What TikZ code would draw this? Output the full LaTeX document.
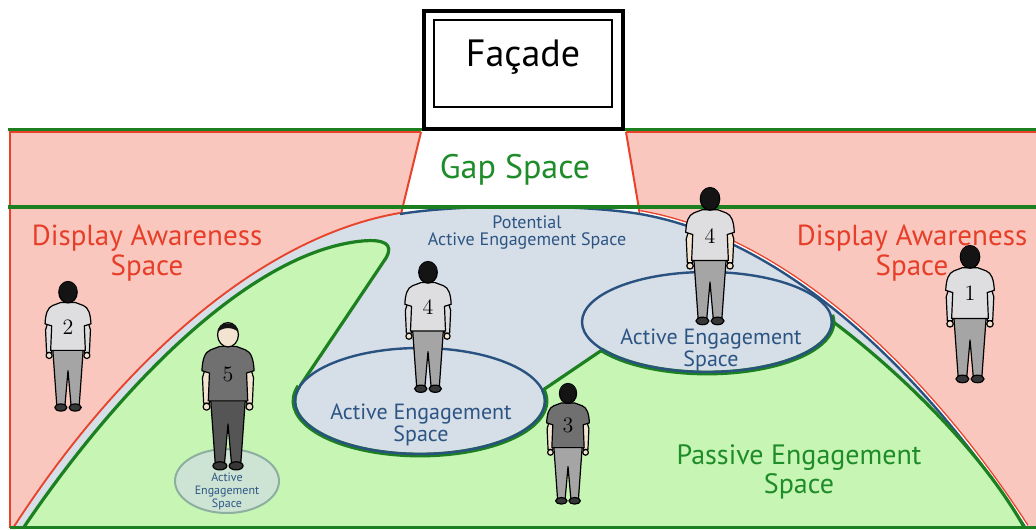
\documentclass[tikz,border=0pt]{standalone}
\usepackage{fontspec}
\newfontfamily\gill{PT Sans}
\definecolor{pinkbg}{RGB}{250,199,190}
\definecolor{bluegrey}{RGB}{214,222,231}
\definecolor{greenfill}{RGB}{199,245,180}
\definecolor{greenline}{RGB}{28,128,32}
\definecolor{redline}{RGB}{232,66,42}
\definecolor{blueline}{RGB}{42,82,128}
\definecolor{redtext}{RGB}{230,62,40}
\definecolor{bluetext}{RGB}{45,85,132}
\definecolor{greentext}{RGB}{30,140,40}
\definecolor{smallfill}{RGB}{205,228,212}
\definecolor{smalledge}{RGB}{140,175,160}
\definecolor{shirtlight}{RGB}{222,222,224}
\definecolor{shirtdark}{RGB}{112,112,112}
\definecolor{pantsmid}{RGB}{165,165,165}
\definecolor{pantsdark}{RGB}{85,85,85}
\definecolor{skin}{RGB}{242,228,208}
\definecolor{hair}{RGB}{20,20,20}
\definecolor{shoe}{RGB}{55,55,55}
\begin{document}
\begin{tikzpicture}[x=0.5pt,y=-0.5pt,
  lbl/.style={inner sep=0pt, align=center},
  inkline/.style={draw=black, line width=0.6pt, line join=round},
  zoneline/.style={greenline, line width=1.6pt},
  shirt/.store in=\shirtc, pants/.store in=\pantsc,
  arms/.store in=\armsc, headc/.store in=\headc, tag/.store in=\tagc,
  shirt=shirtlight, pants=pantsmid, arms=shirtlight, headc=hair, tag=1,
  person/.pic={
    % arms
    \filldraw[inkline, fill=\armsc] (-16,28) -- (-22,48) -- (-21,70) -- (-16,70) -- (-15,48) -- cycle;
    \filldraw[inkline, fill=\armsc] (16,28) -- (22,48) -- (21,70) -- (16,70) -- (15,48) -- cycle;
    \filldraw[inkline, fill=skin] (-18.5,73) circle[radius=3];
    \filldraw[inkline, fill=skin] (18.5,73) circle[radius=3];
    % legs and shoes
    \filldraw[inkline, fill=\pantsc] (-15,66) -- (15,66) -- (11,122) -- (3,122) -- (0,88) -- (-3,122) -- (-11,122) -- cycle;
    \filldraw[inkline, fill=shoe] (-7,124) ellipse[x radius=6, y radius=3.5];
    \filldraw[inkline, fill=shoe] (7,124) ellipse[x radius=6, y radius=3.5];
    % shirt with sleeve caps
    \filldraw[inkline, fill=\shirtc] (-7,21) -- (7,21) -- (15,24) .. controls (20,26) and (22,32) .. (22.5,42) -- (16,44) -- (17,68) -- (-17,68) -- (-16,44) -- (-22.5,42) .. controls (-22,32) and (-20,26) .. (-15,24) -- cycle;
    % head and hair
    \filldraw[inkline, fill=\headc] (0,11) ellipse[x radius=9, y radius=10.5];
    \fill[hair] (-9,9) .. controls (-9,-1.5) and (9,-1.5) .. (9,9) .. controls (5,4) and (-5,4) .. (-9,9) -- cycle;
    \node[inner sep=0pt, font=\fontsize{11}{11}\selectfont] (-num) at (0,45) {\tagc};
  }]
\useasboundingbox (0,0) rectangle (1036,529);
\fill[white] (0,0) rectangle (1036,529);

% display awareness zone
\filldraw[draw=redline, fill=pinkbg, line width=1pt] (10,132) rectangle (1042,527);

% gap between facade and floor
\fill[white] (421,131) -- (626,131) -- (641,216) -- (400,216) -- cycle;
\draw[redline, line width=1pt] (421,132) -- (401,214);
\draw[redline, line width=1pt] (626,132) -- (640,215);

% outer rims of the floor dome
\draw[redline, line width=2pt] (15,527) .. controls (110,380) and (250,240) .. (400,214);
\draw[redline, line width=4pt] (640,214) .. controls (790,240) and (930,380) .. (1025,527);
\draw[white, line width=2.6pt] (640,214) .. controls (790,240) and (930,380) .. (1025,527);

% potential active engagement dome
\fill[bluegrey] (15,527) .. controls (110,380) and (250,240) .. (400,214)
  .. controls (460,204) and (580,204) .. (640,214)
  .. controls (790,240) and (930,380) .. (1025,527) -- cycle;
\draw[blueline, line width=1.2pt] (400,214) .. controls (460,204) and (580,204) .. (640,214)
  .. controls (790,240) and (930,380) .. (1025,527);

% passive engagement region
\fill[greenfill] (24,527) .. controls (118,388) and (250,252) .. (362,241)
  .. controls (384,239) and (394,244) .. (386,258) -- (300,386) -- (420,430)
  -- (543,390) -- (602,350) -- (707,350) -- (828,318)
  .. controls (880,356) and (975,440) .. (1024,527) -- cycle;
\draw[zoneline] (24,527) .. controls (118,388) and (250,252) .. (362,241)
  .. controls (384,239) and (394,244) .. (386,258) -- (300,386);
\draw[zoneline] (543,390) -- (602,350);
\draw[zoneline] (828,318) .. controls (880,356) and (975,440) .. (1024,527);

% active engagement ellipses
\fill[bluegrey] (420,401) ellipse[x radius=125, y radius=53];
\draw[greenline, line width=2.4pt] (420,401) ++(196:126 and 54) arc[start angle=196, end angle=-12, x radius=126, y radius=54];
\draw[blueline, line width=1.2pt] (420,401) ellipse[x radius=125, y radius=53];

\fill[bluegrey] (707,322) ellipse[x radius=125, y radius=50];
\draw[greenline, line width=2.4pt] (707,322) ++(147:126 and 51) arc[start angle=147, end angle=-8, x radius=126, y radius=51];
\draw[blueline, line width=1.2pt] (707,322) ellipse[x radius=125, y radius=50];

\filldraw[draw=smalledge, fill=smallfill, line width=1pt] (227,481) ellipse[x radius=52, y radius=32];

% horizontal zone lines
\draw[zoneline] (8,129.5) -- (1036,129.5);
\draw[zoneline] (8,207) -- (1036,207);
\draw[zoneline] (10,527.5) -- (1036,527.5);

% facade
\filldraw[draw=black, fill=white, line width=1.6pt] (424,11) rectangle (623,129);
\draw[black, line width=1pt] (434,20) rectangle (612,107);

% labels
\node[lbl, font=\gill\fontsize{19}{20}\selectfont] (facade) at (523,57) {Façade};
\node[lbl, text=greentext, font=\gill\fontsize{17}{18}\selectfont] (gap) at (515,170) {Gap Space};
\node[lbl, text=redtext, font=\gill\fontsize{14.5}{15}\selectfont] (dal) at (147,253) {Display Awareness\\Space};
\node[lbl, text=redtext, font=\gill\fontsize{14.5}{15}\selectfont] (dar) at (912,253) {Display Awareness\\Space};
\node[lbl, text=bluetext, font=\gill\fontsize{9}{8.5}\selectfont] (pot) at (527,233) {Potential\\Active Engagement Space};
\node[lbl, text=bluetext, font=\gill\fontsize{11}{11}\selectfont] (ael) at (421,425) {Active Engagement\\Space};
\node[lbl, text=bluetext, font=\gill\fontsize{11}{11}\selectfont] (aer) at (711,349.5) {Active Engagement\\Space};
\node[lbl, text=greentext, font=\gill\fontsize{14}{14.5}\selectfont] (pas) at (799,471.5) {Passive Engagement\\Space};
\node[lbl, text=bluetext, font=\gill\fontsize{6}{6.5}\selectfont] (aes) at (227,491.5) {Active\\Engagement\\Space};

% people
\pic[scale=1.08, tag=1] (p1) at (970,245) {person};
\pic[scale=1.02, tag=2] (p2) at (68,281) {person};
\pic[scale=0.95, tag=3, shirt=shirtdark, arms=skin] (p3) at (568,383) {person};
\pic[scale=1.03, tag=4] (p4a) at (428,261) {person};
\pic[scale=1.08, tag=4, arms=skin] (p4b) at (710,187) {person};
\pic[scale=1.16, tag=5, shirt=shirtdark, pants=pantsdark, arms=skin, headc=skin] (p5) at (228,322) {person};
\end{tikzpicture}
\end{document}
